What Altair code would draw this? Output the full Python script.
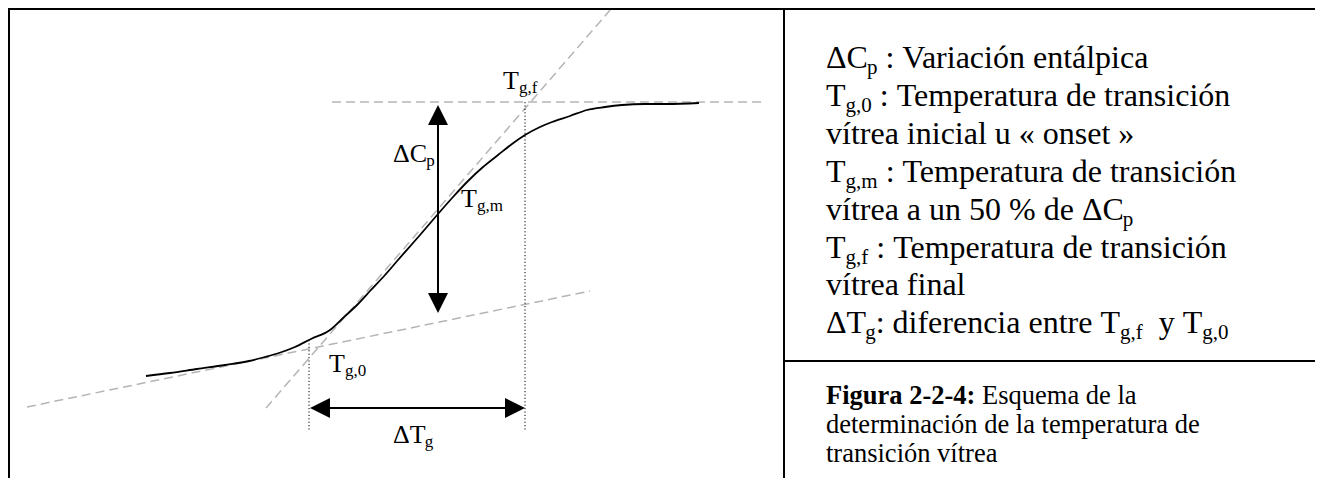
import altair as alt
import pandas as pd

# Canvas of the drawing (diagram units, 1 unit = 1 px)
W, H = 1307, 470

# ---- DSC step curve (temperature T vs. heat capacity signal Cp) ----
curve_T = [138, 162, 189, 217, 241, 257, 271, 287, 303, 322, 335, 350, 362, 377, 390, 412,
           430, 445, 460, 475, 490, 504, 517, 532, 544, 562, 579, 597, 614, 637, 659, 691]
curve_Cp = [102, 105, 109, 113, 117, 121, 125, 131, 139, 148, 160, 174, 187, 203, 218, 243,
            264, 281, 297, 311, 323, 334, 343, 351, 356, 362, 368, 371, 373, 374, 374, 375]

# ---- construction lines (grey dashed): glassy baseline, inflection tangent, rubbery baseline ----
tan_T1 = [19, 258, 324]
tan_Cp1 = [71, 70, 376]
tan_T2 = [582, 603, 756]
tan_Cp2 = [187, 469, 376]

# ---- dotted verticals at Tg,0 and Tg,f ----
dot_T = [301, 517]
dot_Cp1 = [138, 376]
dot_Cp2 = [48, 48]

# ---- arrows (tips) ----
dcp_T = 430            # ΔCp arrow position
dcp_tips = [165, 373]  # lower / upper tip
dtg_Cp = 70            # ΔTg arrow position
dtg_tips = [302, 517]  # left / right tip

# ---- diagram labels ----
lab_main = ["T", "ΔC", "T", "T", "ΔT"]
lab_sub = ["g,f", "p", "g,m", "g,0", "g"]
lab_T = [495, 385, 453, 321, 385]
lab_Cp = [389, 316, 271, 106, 35]

# ---- legend text (right panel) ----
def_lines = [
    [("ΔC", 0), ("p", 1), (" : Variación entálpica", 0)],
    [("T", 0), ("g,0", 1), (" : Temperatura de transición", 0)],
    [("vítrea inicial u « onset »", 0)],
    [("T", 0), ("g,m", 1), (" : Temperatura de transición", 0)],
    [("vítrea a un 50 % de ΔC", 0), ("p", 1)],
    [("T", 0), ("g,f", 1), (" : Temperatura de transición", 0)],
    [("vítrea final", 0)],
    [("ΔT", 0), ("g", 1), (": diferencia entre T", 0), ("g,f", 1), ("  y T", 0), ("g,0", 1)],
]
cap_bold = "Figura 2-2-4:"
cap_lines = [" Esquema de la", "determinación de la temperatura de", "transición vítrea"]

# ---- frame (table borders) ----
frame_x = [1, 0, 776, 776]
frame_x2 = [1, W, 776, W]
frame_y = [0, 469, 0, 117]
frame_y2 = [H, 469, H, 117]

# Times (Liberation Serif) advance widths, em units
REG = {" ": .25, "\u00a0": .25, "!": .333, "%": .833, ",": .25, "-": .333, ".": .25, ":": .278,
       "0": .5, "1": .5, "2": .5, "3": .5, "4": .5, "5": .5, "6": .5, "7": .5, "8": .5, "9": .5,
       "A": .722, "C": .667, "D": .722, "E": .611, "F": .556, "T": .611, "V": .722, "Δ": .612,
       "a": .444, "b": .5, "c": .444, "d": .5, "e": .444, "f": .333, "g": .5, "h": .5, "i": .278,
       "j": .278, "k": .5, "l": .278, "m": .778, "n": .5, "o": .5, "p": .5, "q": .5, "r": .333,
       "s": .389, "t": .278, "u": .5, "v": .5, "w": .722, "x": .5, "y": .5, "z": .444,
       "á": .444, "í": .278, "ó": .5, "«": .5, "»": .5}
BOLD = {" ": .25, "\u00a0": .25, "F": .611, "i": .278, "g": .5, "u": .556, "r": .444, "a": .5,
        "2": .5, "-": .333, "4": .5, ":": .333}


def tw(s, size, bold=False):
    t = BOLD if bold else REG
    return sum(t.get(c, .5) for c in s) * size


segs = []


def add(txt, x, y, size, bold=False):
    # leading spaces are trimmed by the renderer: turn them into an x shift
    body = txt.lstrip(" ")
    lead = tw(txt[:len(txt) - len(body)], size, bold)
    segs.append({"text": body.replace(" ", "\u00a0"), "T": x + lead, "Cp": y,
                 "size": size, "bold": bold})
    return x + tw(txt, size, bold)


# ---- build tables ----
curve_df = pd.DataFrame({"T": curve_T, "Cp": curve_Cp, "o": range(len(curve_T))})
tan_df = pd.DataFrame({"T": tan_T1, "Cp": tan_Cp1, "T2": tan_T2, "Cp2": tan_Cp2})
dot_df = pd.DataFrame({"T": dot_T, "Cp": dot_Cp1, "T2": dot_T, "Cp2": dot_Cp2})
frame_df = pd.DataFrame({"T": frame_x, "Cp": frame_y, "T2": frame_x2, "Cp2": frame_y2})

HEAD = 20
shaft_df = pd.DataFrame({
    "T": [dcp_T, dtg_tips[0] + HEAD / 2],
    "Cp": [dcp_tips[0] + HEAD / 2, dtg_Cp],
    "T2": [dcp_T, dtg_tips[1] - HEAD / 2],
    "Cp2": [dcp_tips[1] - HEAD / 2, dtg_Cp],
})
head_df = pd.DataFrame({
    "T": [dcp_T, dcp_T, dtg_tips[0] + HEAD / 2, dtg_tips[1] - HEAD / 2],
    "Cp": [dcp_tips[0] + HEAD / 2, dcp_tips[1] - HEAD / 2, dtg_Cp, dtg_Cp],
    "shape": ["M0,1L1,-1L-1,-1Z", "M0,-1L1,1L-1,1Z", "M-1,0L1,-1L1,1Z", "M1,0L-1,-1L-1,1Z"],
})

LAB, LAB_SUB = 26, 17
for m, s, x, y in zip(lab_main, lab_sub, lab_T, lab_Cp):
    xn = add(m, x, y, LAB)
    add(s, xn, y - 4, LAB_SUB)

DEF, DEF_SUB = 32, 21
x0 = 818
base0, step = 410, 37.9
for i, line in enumerate(def_lines):
    x = x0
    yb = base0 - i * step
    for txt, sub in line:
        x = add(txt, x, yb - (6 if sub else 0), DEF_SUB if sub else DEF)

CAP = 26.5
cap_base = [74, 45, 16]
xc = add(cap_bold, x0, cap_base[0], CAP, True)
add(cap_lines[0], xc, cap_base[0], CAP)
for j in (1, 2):
    add(cap_lines[j], x0, cap_base[j], CAP)
text_df = pd.DataFrame(segs)
reg_df = text_df[~text_df["bold"]].drop(columns="bold")
bold_df = text_df[text_df["bold"]].drop(columns="bold")

FONT = "Liberation Serif, Times New Roman, serif"
xs = alt.Scale(domain=[0, W], nice=False, zero=False)
ys = alt.Scale(domain=[0, H], nice=False, zero=False)
X = alt.X("T:Q", scale=xs, axis=None)
Y = alt.Y("Cp:Q", scale=ys, axis=None)

frame = alt.Chart(frame_df).mark_rule(color="black", strokeWidth=2).encode(
    x=X, y=Y, x2="T2:Q", y2="Cp2:Q")
tangents = alt.Chart(tan_df).mark_rule(color="#b5b5b5", strokeWidth=1.5, strokeDash=[9, 5]).encode(
    x=X, y=Y, x2="T2:Q", y2="Cp2:Q")
dotted = alt.Chart(dot_df).mark_rule(color="black", strokeWidth=1, strokeDash=[1.2, 2.2]).encode(
    x=X, y=Y, x2="T2:Q", y2="Cp2:Q")
curve = alt.Chart(curve_df).mark_line(color="black", strokeWidth=1.8, interpolate="monotone").encode(
    x=X, y=Y, order="o:Q")
shafts = alt.Chart(shaft_df).mark_rule(color="black", strokeWidth=2).encode(
    x=X, y=Y, x2="T2:Q", y2="Cp2:Q")
heads = alt.Chart(head_df).mark_point(filled=True, color="black", opacity=1, strokeWidth=0).encode(
    x=X, y=Y, shape=alt.Shape("shape:N", scale=None), size=alt.value(HEAD * HEAD))
texts = alt.Chart(reg_df).mark_text(align="left", baseline="alphabetic", font=FONT,
                                    color="black").encode(
    x=X, y=Y, text="text:N", size=alt.Size("size:Q", scale=None))
btexts = alt.Chart(bold_df).mark_text(align="left", baseline="alphabetic", font=FONT,
                                      fontWeight="bold", color="black").encode(
    x=X, y=Y, text="text:N", size=alt.Size("size:Q", scale=None))

chart = alt.layer(tangents, dotted, curve, shafts, heads, frame, texts, btexts).properties(
    width=W, height=H, autosize=alt.AutoSizeParams(type="none"), padding=0,
    background="white").configure_view(stroke=None)

chart.save("out.html", embed_options={"renderer": "svg", "actions": False})
